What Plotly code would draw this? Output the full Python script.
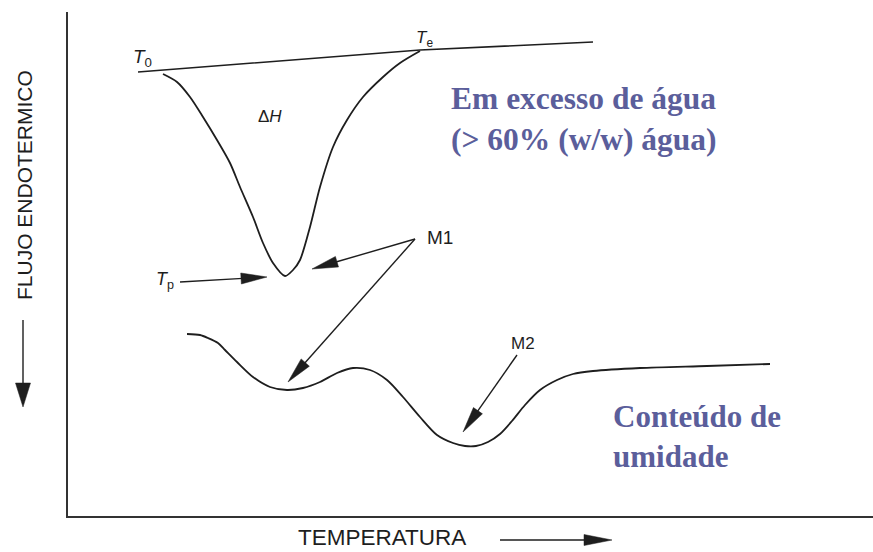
import math
import plotly.graph_objects as go

# ── Canvas / plot box (px) ────────────────────────────────────────────────────
W, H = 873, 552
ML, MT, MB = 68, 12, 36

# ── Data (temperature → right, endothermic flow → down)
base_temp = [138, 420, 593]
base_flow = [72, 50, 42]

peak_temp = [163, 177, 190, 203, 217, 230, 240, 253, 263, 273, 285,
             293, 300, 310, 320, 333, 347, 363, 383, 400, 420]
peak_flow = [74, 82, 97, 117, 140, 163, 187, 217, 243, 263, 276,
             270, 260, 227, 187, 147, 120, 97, 77, 63, 51]

moist_temp = [187, 200, 208, 218, 225, 237, 253, 270, 287, 303, 320, 337,
              353, 370, 387, 403, 420, 437, 453, 465, 476, 488, 500, 512,
              525, 540, 557, 573, 593, 640, 707, 770]
moist_flow = [334, 335, 338, 343, 350, 362, 377, 387, 390, 388, 382, 373,
              368, 370, 380, 397, 417, 435, 443, 446, 446, 442, 434, 421,
              405, 390, 380, 374, 371, 368, 366, 364]

# pointer arrows (tail -> tip)
ptr_tail = [(180, 282), (415, 239), (415, 239), (517, 355)]
ptr_tip = [(267, 277), (312, 269), (288, 382), (463, 432)]

# curve labels
lbl_text = ["<i>T</i><sub>0</sub>", "<i>T</i><sub>e</sub>", "Δ<i>H</i>",
            "<i>T</i><sub>p</sub>", "M1", "M2"]
lbl_x = [142, 424, 270, 165, 440, 523]
lbl_y = [58, 39, 116, 280, 237, 343]
lbl_size = [19, 17, 17, 18, 19, 17]

INK = "#1e1e1e"
BLUE = "#5b5e9b"
SANS = "Liberation Sans, Arial, sans-serif"
SERIF = "Liberation Serif, Times New Roman, serif"


def px_to_paper(x, y):
    return (x - ML) / (W - ML), (H - MB - y) / (H - MB - MT)


def arrow(tail, tip, head_len, half_w, width=1.4, paper=False):
    (x0, y0), (x1, y1) = tail, tip
    d = math.hypot(x1 - x0, y1 - y0)
    ux, uy = (x1 - x0) / d, (y1 - y0) / d
    bx, by = x1 - ux * head_len, y1 - uy * head_len
    tri = [(x1, y1), (bx - uy * half_w, by + ux * half_w), (bx + uy * half_w, by - ux * half_w)]
    end = (bx + ux * 2, by + uy * 2)
    if paper:
        tri = [px_to_paper(*p) for p in tri]
        (x0, y0), end = px_to_paper(x0, y0), px_to_paper(*end)
    xr, yr = ("paper", "paper") if paper else ("x", "y")
    path = "M {} {} L {} {} L {} {} Z".format(*[v for p in tri for v in p])
    return [
        dict(type="line", xref=xr, yref=yr, x0=x0, y0=y0, x1=end[0], y1=end[1],
             line=dict(color=INK, width=width)),
        dict(type="path", xref=xr, yref=yr, path=path, fillcolor=INK,
             line=dict(color=INK, width=0.5)),
    ]


fig = go.Figure()
fig.add_trace(go.Scatter(x=base_temp, y=base_flow, mode="lines",
                         line=dict(color=INK, width=1.6)))
fig.add_trace(go.Scatter(x=peak_temp, y=peak_flow, mode="lines",
                         line=dict(color=INK, width=1.8, shape="spline", smoothing=0.8)))
fig.add_trace(go.Scatter(x=moist_temp, y=moist_flow, mode="lines",
                         line=dict(color=INK, width=1.8, shape="spline", smoothing=0.8)))

shapes = []
for tail, tip in zip(ptr_tail, ptr_tip):
    shapes += arrow(tail, tip, 26, 5.5)
# axis-title arrows (outside the plot box)
shapes += arrow((23, 320), (23, 407), 24, 7.5, width=1.4, paper=True)
shapes += arrow((500, 540), (612, 540), 28, 5.5, width=1.4, paper=True)

annotations = []
for t, x, y, s in zip(lbl_text, lbl_x, lbl_y, lbl_size):
    annotations.append(dict(x=x, y=y, xref="x", yref="y", text=t, showarrow=False,
                            xanchor="center", yanchor="middle",
                            font=dict(family=SANS, size=s, color=INK)))

# axis titles
px, py = px_to_paper(24, 185)
annotations.append(dict(x=px, y=py, xref="paper", yref="paper", text="FLUJO ENDOTERMICO",
                        textangle=-90, showarrow=False, xanchor="center", yanchor="middle",
                        font=dict(family=SANS, size=21, color=INK)))
px, py = px_to_paper(382, 537)
annotations.append(dict(x=px, y=py, xref="paper", yref="paper", text="TEMPERATURA",
                        showarrow=False, xanchor="center", yanchor="middle",
                        font=dict(family=SANS, size=22.5, color=INK)))

# blue notes
annotations.append(dict(x=449, y=119, xref="x", yref="y",
                        text="<b>Em excesso de água<br>(> 60% (w/w) água)</b>",
                        showarrow=False, xanchor="left", yanchor="middle", align="left",
                        font=dict(family=SERIF, size=31.5, color=BLUE)))
annotations.append(dict(x=611, y=436, xref="x", yref="y",
                        text="<b>Conteúdo de<br>umidade</b>",
                        showarrow=False, xanchor="left", yanchor="middle", align="left",
                        font=dict(family=SERIF, size=31, color=BLUE)))

fig.update_layout(
    width=W, height=H,
    margin=dict(l=ML, r=0, t=MT, b=MB, pad=0),
    paper_bgcolor="white", plot_bgcolor="white",
    showlegend=False,
    shapes=shapes,
    annotations=annotations,
)
fig.update_xaxes(range=[ML, W], showgrid=False, zeroline=False, showticklabels=False,
                 ticks="", showline=True, linecolor="#333333", linewidth=1.5)
fig.update_yaxes(range=[H - MB, MT], showgrid=False, zeroline=False, showticklabels=False,
                 ticks="", showline=True, linecolor="#333333", linewidth=1.5)

fig.write_html("out.html", config={"displayModeBar": False},
               post_script="document.body.style.margin='0';")
